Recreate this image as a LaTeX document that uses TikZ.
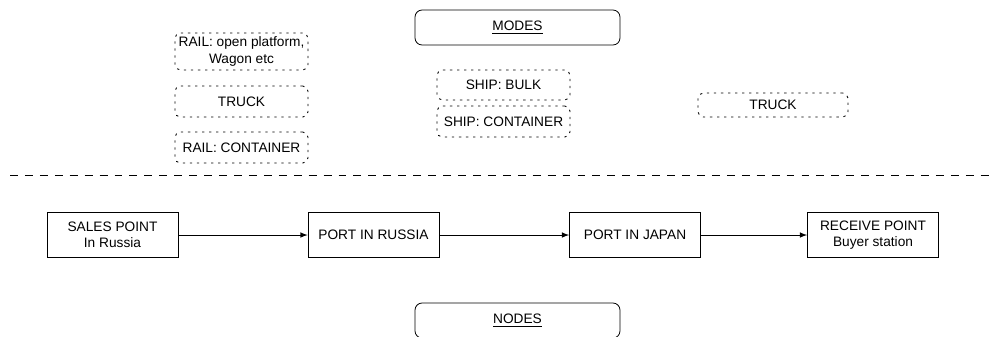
\documentclass[tikz,border=0pt]{standalone}
\usepackage{fontspec}
\setmainfont{Liberation Sans}

\tikzset{
  station/.style = {shape = rectangle, draw = black, line width = 0.45pt,
    align = center, inner sep = 0pt, minimum width = 2.62cm, minimum height = 0.9cm},
  mode/.style = {shape = rectangle, draw = black, rounded corners = 3pt,
    dash pattern = on 1.3pt off 2.7pt, line width = 0.5pt,
    align = center, inner sep = 0pt, minimum width = 2.66cm},
  heading/.style = {shape = rectangle, draw = black, rounded corners = 4pt,
    line width = 0.45pt, inner sep = 0pt, minimum width = 4.1cm, minimum height = 0.7cm},
}

\begin{document}
\begin{tikzpicture}[x = 0.02cm, y = -0.02cm, font = \fontsize{7.8}{9.2}\selectfont, >= latex]
        \useasboundingbox (0, 0) rectangle (989, 336);

        % ------------------------------------------------------------------------
        % Modes
        \node[heading] at (517.5, 27.5) (modes) {\underline{MODES}};

        \node[mode, minimum height = 0.74cm] at (241.5,  51.5) (railopen) {RAIL: open platform,\\Wagon etc};
        \node[mode, minimum height = 0.62cm] at (241.5, 101.5) (truckl)   {TRUCK};
        \node[mode, minimum height = 0.62cm] at (241.5, 147.5) (railcont) {RAIL: CONTAINER};

        \node[mode, minimum height = 0.6cm]  at (503.5,  85.0) (shipbulk) {SHIP: BULK};
        \node[mode, minimum height = 0.62cm] at (503.5, 121.5) (shipcont) {SHIP: CONTAINER};

        \node[mode, minimum width = 3.0cm, minimum height = 0.48cm] at (773, 105) (truckr) {TRUCK};

        \coordinate (cutl) at (10, 175);
        \coordinate (cutr) at (989, 175);
        \draw[line width = 0.45pt, dash pattern = on 4.5pt off 4pt] (cutl) -- (cutr);

        % ------------------------------------------------------------------------
        % Nodes
        \node[station] at (112.5, 235) (sales) {SALES POINT\\In Russia};
        \node[station] at (373.5, 235) (portru) {PORT IN RUSSIA};
        \node[station] at (635.0, 235) (portjp) {PORT IN JAPAN};
        \node[station] at (873.0, 235) (receive) {RECEIVE POINT\\Buyer station};

        \draw[->, line width = 0.45pt]
          (sales) edge (portru)
          (portru) edge (portjp)
          (portjp) edge (receive)
        ;

        \node[heading] at (517.5, 320.5) (nodes) {\underline{NODES}};
      \end{tikzpicture}
\end{document}
